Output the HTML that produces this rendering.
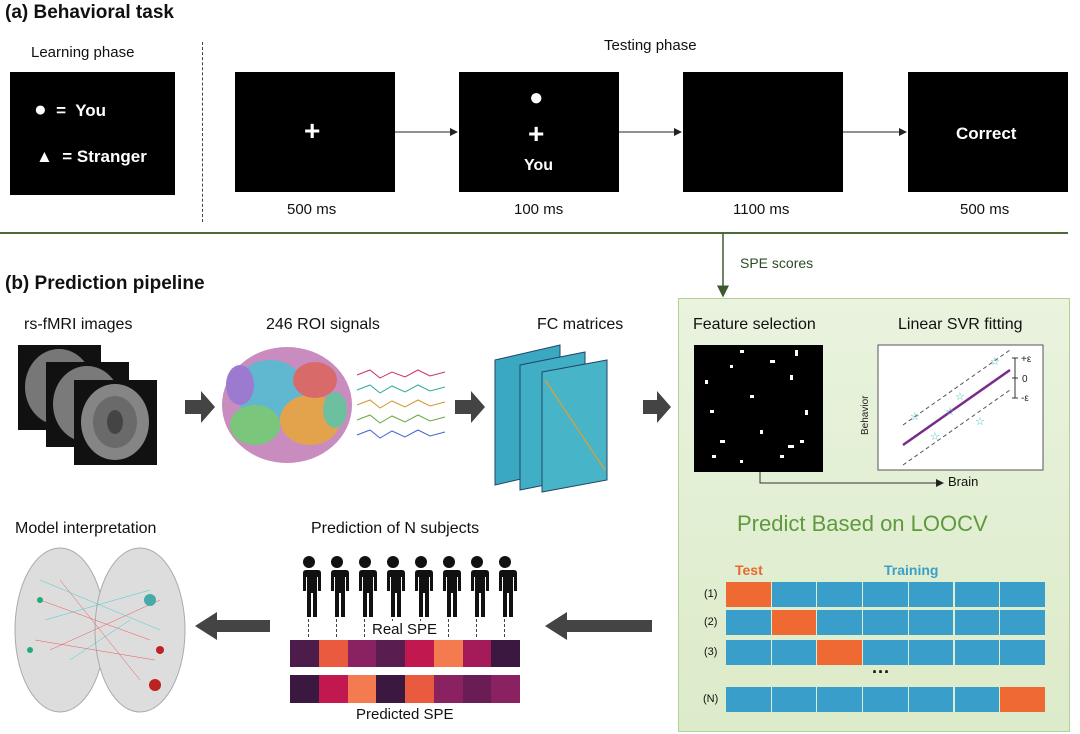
<!DOCTYPE html>
<html><head><meta charset="utf-8"><style>
body{margin:0;background:#fff;font-family:"Liberation Sans",sans-serif;}
#c{position:relative;width:1080px;height:734px;overflow:hidden;background:#fff;}
.t{position:absolute;white-space:nowrap;color:#111;}
.box{position:absolute;background:#000;}
.w{color:#fff;font-weight:bold;}
</style></head><body><div id="c">
<div class="t" style="left:5px;top:2px;font-size:19px;font-weight:bold">(a) Behavioral task</div>
<div class="t" style="left:31px;top:44px;font-size:15px">Learning phase</div>
<div class="t" style="left:604px;top:37px;font-size:15px">Testing phase</div>
<div class="box" style="left:10px;top:72px;width:165px;height:123px"></div>
<div class="t w" style="left:34px;top:98px;font-size:17px"><span style="font-size:21px">●</span>&nbsp; =&nbsp; You</div>
<div class="t w" style="left:36px;top:147px;font-size:17px">▲&nbsp; = Stranger</div>
<div style="position:absolute;left:202px;top:42px;height:180px;border-left:1px dashed #444"></div>
<div class="box" style="left:235px;top:72px;width:160px;height:120px"></div>
<div class="box" style="left:459px;top:72px;width:160px;height:120px"></div>
<div class="box" style="left:683px;top:72px;width:160px;height:120px"></div>
<div class="box" style="left:908px;top:72px;width:160px;height:120px"></div>
<div class="t w" style="left:304px;top:115px;font-size:28px">+</div>
<div class="t w" style="left:529px;top:84px;font-size:24px">●</div>
<div class="t w" style="left:528px;top:118px;font-size:28px">+</div>
<div class="t w" style="left:524px;top:157px;font-size:16px">You</div>
<div class="t w" style="left:956px;top:124px;font-size:17px">Correct</div>
<div class="t" style="left:287px;top:201px;font-size:15px">500 ms</div>
<div class="t" style="left:514px;top:201px;font-size:15px">100 ms</div>
<div class="t" style="left:733px;top:201px;font-size:15px">1100 ms</div>
<div class="t" style="left:960px;top:201px;font-size:15px">500 ms</div>
<svg style="position:absolute;left:0;top:0" width="1080" height="734">
<defs><marker id="a" markerWidth="8" markerHeight="8" refX="7" refY="4" orient="auto"><path d="M0,0 L8,4 L0,8z" fill="#222"/></marker>
<marker id="g" markerWidth="8" markerHeight="8" refX="7" refY="4" orient="auto"><path d="M0,0 L8,4 L0,8z" fill="#3d5a2e"/></marker></defs>
<line x1="395" y1="132" x2="457" y2="132" stroke="#222" marker-end="url(#a)"/>
<line x1="619" y1="132" x2="681" y2="132" stroke="#222" marker-end="url(#a)"/>
<line x1="843" y1="132" x2="906" y2="132" stroke="#222" marker-end="url(#a)"/>
<line x1="0" y1="233" x2="1068" y2="233" stroke="#4a6b3a" stroke-width="2"/>
<line x1="723" y1="233" x2="723" y2="296" stroke="#3d5a2e" stroke-width="1.5" marker-end="url(#g)"/>
</svg>
<div class="t" style="left:740px;top:255px;font-size:14px;color:#2d4a25">SPE scores</div>
<div class="t" style="left:5px;top:273px;font-size:19px;font-weight:bold">(b) Prediction pipeline</div>
<div style="position:absolute;left:678px;top:298px;width:390px;height:432px;background:linear-gradient(#e9f3de,#dcebc9);border:1px solid #b5cf9a"></div>
<div class="t" style="left:24px;top:316px;font-size:16px">rs-fMRI images</div>
<div class="t" style="left:266px;top:316px;font-size:16px">246 ROI signals</div>
<div class="t" style="left:537px;top:316px;font-size:16px">FC matrices</div>
<div class="t" style="left:693px;top:316px;font-size:16px">Feature selection</div>
<div class="t" style="left:898px;top:316px;font-size:16px">Linear SVR fitting</div>
<svg style="position:absolute;left:0;top:0" width="1080" height="734">
<rect x="18" y="345" width="83" height="85" fill="#111"/><ellipse cx="59" cy="387" rx="34" ry="38" fill="#777"/>
<rect x="46" y="362" width="83" height="85" fill="#111"/><ellipse cx="87" cy="404" rx="34" ry="38" fill="#7a7a7a"/>
<rect x="74" y="380" width="83" height="85" fill="#111"/><ellipse cx="115" cy="422" rx="34" ry="38" fill="#858585"/><ellipse cx="115" cy="422" rx="22" ry="26" fill="#6a6a6a"/><ellipse cx="115" cy="422" rx="8" ry="12" fill="#444"/>
<path d="M185,400 h16 v-9 l14,16 -14,16 v-9 h-16z" fill="#444"/>
<ellipse cx="287" cy="405" rx="65" ry="58" fill="#c98cbf"/><ellipse cx="270" cy="390" rx="35" ry="30" fill="#5fb8d0"/><ellipse cx="310" cy="420" rx="30" ry="25" fill="#e3a34c"/><ellipse cx="255" cy="425" rx="25" ry="20" fill="#7ac67a"/><ellipse cx="315" cy="380" rx="22" ry="18" fill="#d96a6a"/><ellipse cx="240" cy="385" rx="14" ry="20" fill="#9b7ad0"/><ellipse cx="335" cy="410" rx="12" ry="18" fill="#6cc0a0"/>
<g fill="none" stroke-width="1"><polyline points="357,375 370,370 380,378 392,372 405,377 418,370 430,376 445,372" stroke="#c36"/><polyline points="357,390 370,385 380,393 392,386 405,392 418,385 430,391 445,387" stroke="#3a9"/><polyline points="357,405 370,400 380,408 392,401 405,407 418,400 430,406 445,402" stroke="#c93"/><polyline points="357,420 370,415 380,423 392,416 405,422 418,415 430,421 445,417" stroke="#6a4"/><polyline points="357,435 370,430 380,438 392,431 405,437 418,430 430,436 445,432" stroke="#46c"/></g>
<path d="M455,400 h16 v-9 l14,16 -14,16 v-9 h-16z" fill="#444"/>
<polygon points="495,360 560,345 560,470 495,485" fill="#3aa8c0" stroke="#246"/>
<polygon points="520,365 585,352 585,477 520,490" fill="#40aec4" stroke="#246"/>
<polygon points="542,372 607,360 607,480 542,492" fill="#48b4c8" stroke="#246"/>
<line x1="545" y1="380" x2="605" y2="470" stroke="#c9a24a" stroke-width="1.5"/>
<path d="M643,400 h14 v-9 l14,16 -14,16 v-9 h-14z" fill="#444"/>
<rect x="694" y="345" width="129" height="127" fill="#000"/>
<g fill="#fff"><rect x="740" y="350" width="4" height="3"/><rect x="770" y="360" width="5" height="3"/><rect x="705" y="380" width="3" height="4"/><rect x="750" y="395" width="4" height="3"/><rect x="790" y="375" width="3" height="5"/><rect x="710" y="410" width="4" height="3"/><rect x="760" y="430" width="3" height="4"/><rect x="800" y="440" width="4" height="3"/><rect x="720" y="440" width="5" height="3"/><rect x="780" y="455" width="4" height="3"/><rect x="740" y="460" width="3" height="3"/><rect x="805" y="410" width="3" height="5"/><rect x="730" y="365" width="3" height="3"/><rect x="795" y="350" width="3" height="6"/><rect x="712" y="455" width="4" height="3"/><rect x="788" y="445" width="6" height="3"/></g>
<rect x="878" y="345" width="165" height="125" fill="#fff" stroke="#555"/>
<line x1="903" y1="445" x2="1010" y2="370" stroke="#7a2a8a" stroke-width="2.5"/>
<line x1="903" y1="425" x2="1010" y2="350" stroke="#555" stroke-dasharray="4,3"/>
<line x1="903" y1="465" x2="1010" y2="390" stroke="#555" stroke-dasharray="4,3"/>
<g stroke="#333"><line x1="1015" y1="358" x2="1015" y2="398"/><line x1="1012" y1="358" x2="1018" y2="358"/><line x1="1012" y1="378" x2="1018" y2="378"/><line x1="1012" y1="398" x2="1018" y2="398"/></g>
<g font-size="10" fill="#222"><text x="1021" y="362">+ε</text><text x="1022" y="382">0</text><text x="1021" y="401">-ε</text><text x="868" y="435" transform="rotate(-90 868 435)">Behavior</text></g>
<g fill="#4bb" font-size="11"><text x="910" y="420">☆</text><text x="930" y="440">☆</text><text x="955" y="400">☆</text><text x="975" y="425">☆</text><text x="990" y="365">☆</text><text x="945" y="415">☆</text></g>
<polyline points="760,472 760,483 943,483" fill="none" stroke="#333" marker-end="url(#a)"/>
<path d="M195,626 l22,-14 v8 h53 v12 h-53 v8z" fill="#444"/>
<path d="M545,626 l22,-14 v8 h85 v12 h-85 v8z" fill="#444"/>
<ellipse cx="60" cy="630" rx="45" ry="82" fill="#ddd" stroke="#aaa"/>
<ellipse cx="140" cy="630" rx="45" ry="82" fill="#ddd" stroke="#aaa"/>
<g stroke="#e55" stroke-width="0.5"><line x1="40" y1="600" x2="150" y2="640"/><line x1="50" y1="650" x2="160" y2="600"/><line x1="60" y1="580" x2="140" y2="680"/><line x1="35" y1="640" x2="155" y2="660"/></g>
<g stroke="#4cc" stroke-width="0.5"><line x1="45" y1="620" x2="150" y2="590"/><line x1="70" y1="660" x2="130" y2="620"/><line x1="40" y1="580" x2="160" y2="630"/></g>
<circle cx="150" cy="600" r="6" fill="#4aa"/><circle cx="155" cy="685" r="6" fill="#b22"/><circle cx="160" cy="650" r="4" fill="#b22"/><circle cx="40" cy="600" r="3" fill="#2a7"/><circle cx="30" cy="650" r="3" fill="#2a7"/>
</svg>
<div class="t" style="left:15px;top:520px;font-size:16px">Model interpretation</div>
<div class="t" style="left:311px;top:520px;font-size:16px">Prediction of N subjects</div>
<div class="t" style="left:948px;top:474px;font-size:13px">Brain</div>
<div class="t" style="left:737px;top:511px;font-size:22px;color:#5f9a3f">Predict Based on LOOCV</div>
<div id="p" style="position:absolute;left:296px;top:555px;font-size:50px;line-height:60px;letter-spacing:-4px"></div>
<div class="t" style="left:370px;top:621px;font-size:15px;background:#fff;padding:0 2px">Real SPE</div>
<div class="t" style="left:356px;top:706px;font-size:15px">Predicted SPE</div>
<div id="bars"></div>
<div class="t" style="left:735px;top:562px;font-size:14px;font-weight:bold;color:#e8692e">Test</div>
<div class="t" style="left:884px;top:562px;font-size:14px;font-weight:bold;color:#3aa0c8">Training</div>
<div class="t" style="left:704px;top:588px;font-size:11px">(1)</div>
<div class="t" style="left:704px;top:616px;font-size:11px">(2)</div>
<div class="t" style="left:704px;top:646px;font-size:11px">(3)</div>
<div class="t" style="left:703px;top:693px;font-size:11px">(N)</div>
<div class="t" style="left:872px;top:662px;font-size:18px;font-weight:bold">···</div>
<div id="lo"></div>
<script>
var p='';for(var i=0;i<8;i++)p+='<svg style="position:absolute;left:'+(i*28)+'px;top:0" width="26" height="62"><circle cx="13" cy="7" r="6" fill="#111"/><path d="M4,15 h18 q3,0 3,3 v18 h-3 v-14 h-1 v40 h-4 v-24 h-2 v24 h-4 v-40 h-1 v14 h-3 v-18 q0,-3 3,-3z" fill="#111"/></svg><div style="position:absolute;left:'+(i*28+12)+'px;top:64px;height:18px;border-left:1px dashed #444"></div>';
document.getElementById('p').innerHTML=p;
var r=['#4c1d4b','#ea5a3f','#8a2160','#5a1d4f','#c0184f','#f47a50','#a51a58','#3a1840'],q=['#3a1840','#c0184f','#f47a50','#3a1840','#ea5a3f','#8a2160','#6a1d55','#8a2160'],b='';
for(i=0;i<8;i++){b+='<div style="position:absolute;left:'+(290+i*28.75)+'px;top:640px;width:29px;height:27px;background:'+r[i]+'"></div><div style="position:absolute;left:'+(290+i*28.75)+'px;top:675px;width:29px;height:28px;background:'+q[i]+'"></div>';}
document.getElementById('bars').innerHTML=b;
var ys=[582,610,640,687],o=[0,1,2,6],l='';
for(var k=0;k<4;k++)for(i=0;i<7;i++)l+='<div style="position:absolute;left:'+(726+i*45.7)+'px;top:'+ys[k]+'px;width:44.7px;height:25px;background:'+(i==o[k]?'#ef6a33':'#3a9ecb')+'"></div>';
document.getElementById('lo').innerHTML=l;
</script>
</div></body></html>
